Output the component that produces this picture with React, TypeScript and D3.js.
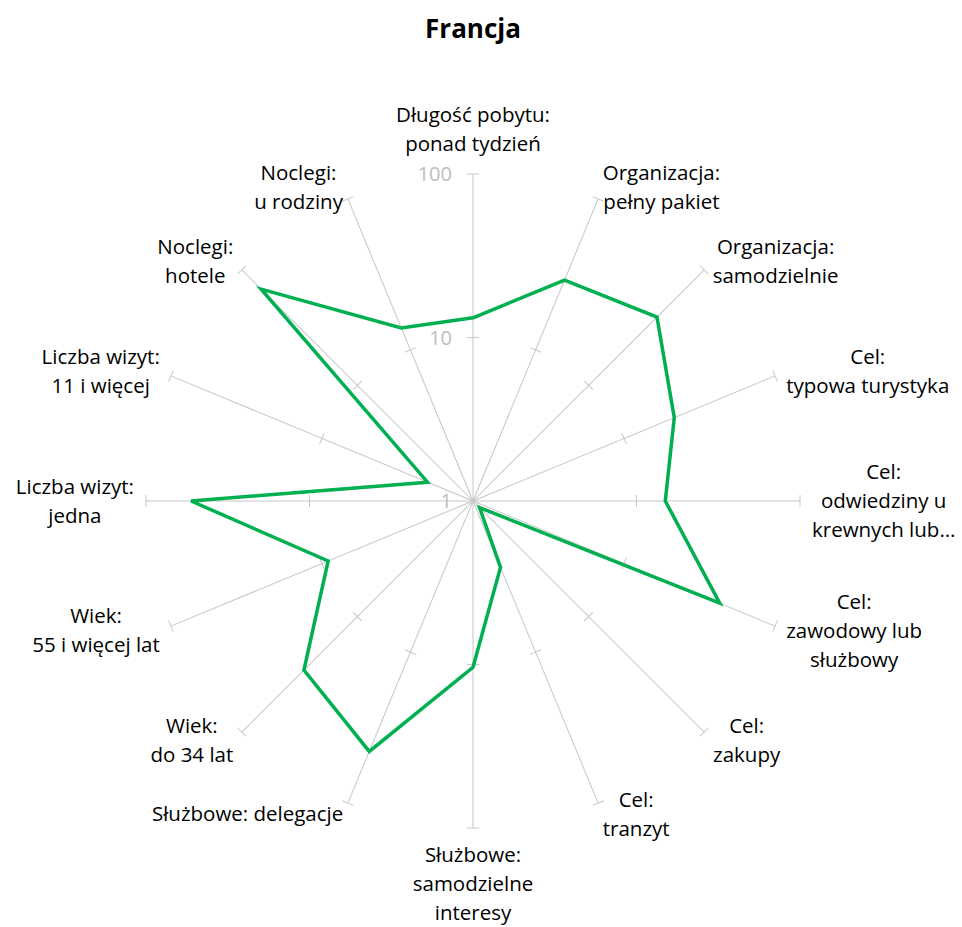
import React, { useEffect, useRef } from 'react'
import * as d3 from 'd3'

// axis labels, clockwise from the top
const categories: string[][] = [
  ['Długość pobytu:', 'ponad tydzień'],
  ['Organizacja:', 'pełny pakiet'],
  ['Organizacja:', 'samodzielnie'],
  ['Cel:', 'typowa turystyka'],
  ['Cel:', 'odwiedziny u', 'krewnych lub…'],
  ['Cel:', 'zawodowy lub', 'służbowy'],
  ['Cel:', 'zakupy'],
  ['Cel:', 'tranzyt'],
  ['Służbowe:', 'samodzielne', 'interesy'],
  ['Służbowe: delegacje'],
  ['Wiek:', 'do 34 lat'],
  ['Wiek:', '55 i więcej lat'],
  ['Liczba wizyt:', 'jedna'],
  ['Liczba wizyt:', '11 i więcej'],
  ['Noclegi:', 'hotele'],
  ['Noclegi:', 'u rodziny'],
]

const values: number[] = [13.2, 29, 39, 21.5, 15, 43, 1.14, 2.75, 10.4, 45.5, 29, 9.1, 53, 2, 68, 14]

const tickValues: number[] = [1, 10, 100]

const title = 'Francja'

const W = 962
const H = 927
const cx = 473
const cy = 501
const R = 327
const FONT = '"Open Sans", sans-serif'

const RadarChart = () => {
  const ref = useRef<SVGSVGElement>(null)

  useEffect(() => {
    const svg = d3.select(ref.current)
    svg.selectAll('*').remove()

    const n = categories.length
    const angle = (i: number) => (i * 2 * Math.PI) / n
    const r = d3.scaleLog().domain([1, 100]).range([0, R])

    svg
      .append('text')
      .attr('x', cx)
      .attr('y', 38)
      .attr('text-anchor', 'middle')
      .style('font-family', FONT)
      .style('font-weight', 'bold')
      .style('font-size', '26px')
      .text(title)

    const g = svg.append('g').attr('transform', `translate(${cx},${cy})`)

    // spokes
    const spokes = g
      .selectAll('g.spoke')
      .data(categories)
      .join('g')
      .attr('class', 'spoke')
      .attr('transform', (d, i) => `rotate(${(angle(i) * 180) / Math.PI})`)

    spokes
      .append('line')
      .attr('x1', 0)
      .attr('y1', 0)
      .attr('x2', 0)
      .attr('y2', -r(100))
      .attr('stroke', '#c6c6c6')
      .attr('stroke-width', 1)

    spokes
      .selectAll('line.tick')
      .data(tickValues.slice(1))
      .join('line')
      .attr('class', 'tick')
      .attr('x1', -6)
      .attr('x2', 6)
      .attr('y1', d => -r(d))
      .attr('y2', d => -r(d))
      .attr('stroke', '#c6c6c6')
      .attr('stroke-width', 1)

    // tick labels on the vertical axis
    g.selectAll('text.tl')
      .data(tickValues)
      .join('text')
      .attr('class', 'tl')
      .attr('x', -21)
      .attr('y', d => -r(d))
      .attr('dy', '0.35em')
      .attr('text-anchor', 'end')
      .attr('fill', '#bdbdbd')
      .style('font-family', FONT)
      .style('font-size', '20px')
      .text(d => d)

    // series
    const line = d3
      .lineRadial<number>()
      .angle((d, i) => angle(i))
      .radius(d => r(d))
      .curve(d3.curveLinearClosed)

    g.append('path')
      .attr('d', line(values))
      .attr('fill', 'none')
      .attr('stroke', '#00b050')
      .attr('stroke-width', 3.5)
      .attr('stroke-linejoin', 'miter')

    // category labels
    const lh = 29
    const rl = R + 12
    categories.forEach((lines, i) => {
      const a = angle(i)
      const s = Math.sin(a)
      const c = Math.cos(a)
      const ax = rl * s
      const ay = -rl * c
      const t = g
        .append('text')
        .attr('text-anchor', 'middle')
        .style('font-family', FONT)
        .style('font-size', '20.5px')
        .attr('fill', '#000')
      lines.forEach((l, j) => {
        t.append('tspan').attr('x', 0).attr('y', j * lh).text(l)
      })
      const bb = (t.node() as SVGTextElement).getBBox()
      const w = bb.width
      const h = lines.length * lh
      let bx = ax
      let by = ay
      if (Math.abs(s) < 1e-6) {
        by = ay - Math.sign(c) * (h / 2) - (c > 0 ? 4 : 0)
      } else {
        bx = ax + Math.sign(s) * (w / 2)
      }
      // shift so the block's centre lands on (bx, by)
      const top = by - h / 2
      t.attr('transform', `translate(${bx},${top + lh / 2})`)
      t.selectAll('tspan').attr('dy', '0.35em')
    })
  }, [])

  return (
    <svg
      ref={ref}
      width={W}
      height={H}
      style={{ position: 'absolute', left: 0, top: 0, background: '#fff' }}
    />
  )
}

export default function App() {
  return <RadarChart />
}
